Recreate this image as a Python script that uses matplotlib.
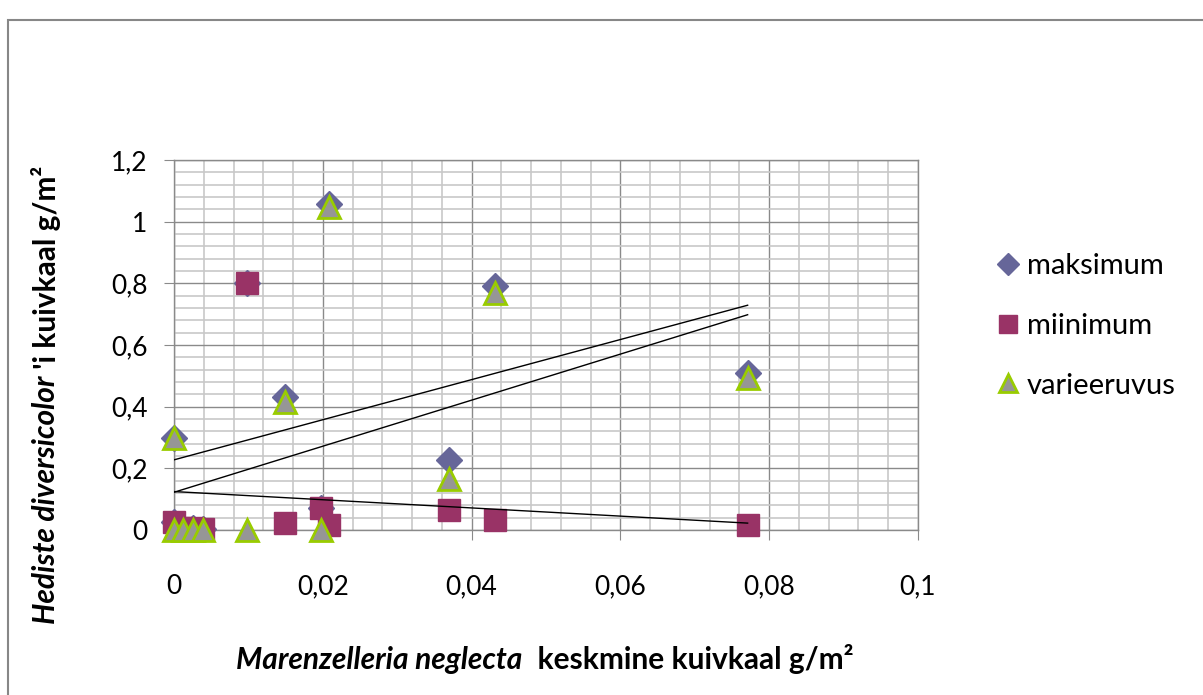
import matplotlib
matplotlib.use("Agg")
import matplotlib.pyplot as plt
import numpy as np
from matplotlib.patches import Rectangle
from matplotlib.ticker import MultipleLocator, FuncFormatter

plt.rcParams['font.family'] = ['Lato', 'DejaVu Sans']

# Marenzelleria neglecta keskmine kuivkaal (x) vs Hediste diversicolor kuivkaal
x_vals = [0, 0, 0.00125, 0.0026, 0.0039, 0.0098, 0.0149, 0.0197, 0.0209, 0.0369, 0.0432, 0.0771]
maksimum = [0.30, 0.026, 0.008, 0.005, 0.003, 0.80, 0.43, 0.072, 1.056, 0.228, 0.79, 0.51]
miinimum = [np.nan, 0.026, 0.008, 0.005, 0.003, 0.80, 0.023, 0.072, 0.016, 0.065, 0.032, 0.016]
varieeruvus = [0.30, 0, 0, 0, 0, 0, 0.414, 0, 1.048, 0.164, 0.768, 0.494]

W, H = 1203, 695
fig = plt.figure(figsize=(W / 100, H / 100), dpi=100)
fig.patch.set_facecolor('white')

# outer chart border
fig.patches.append(Rectangle((8 / W, -0.2), 2, 1.2 - 20 / H, transform=fig.transFigure,
                             fill=False, edgecolor='#878787', lw=1.5))

ax = fig.add_axes([174 / W, 1 - 530 / H, 744 / W, 370 / H])
ax.set_xlim(0, 0.1)
ax.set_ylim(0, 1.2)

ax.xaxis.set_major_locator(MultipleLocator(0.02))
ax.xaxis.set_minor_locator(MultipleLocator(0.004))
ax.yaxis.set_major_locator(MultipleLocator(0.2))
ax.yaxis.set_minor_locator(MultipleLocator(0.04))
fmt = FuncFormatter(lambda v, p: ('%g' % round(v, 6)).replace('.', ','))
ax.xaxis.set_major_formatter(fmt)
ax.yaxis.set_major_formatter(fmt)

ax.grid(which='minor', color='#c8c8c8', lw=1.2, zorder=0)
ax.grid(which='major', color='#8a8a8a', lw=1.0, zorder=0)
ax.set_axisbelow(True)
for s in ax.spines.values():
    s.set_color('#8a8a8a')
    s.set_linewidth(1.0)

ax.tick_params(which='major', direction='out', length=7, color='#8a8a8a', labelsize=19)
ax.tick_params(axis='x', which='major', pad=25)
ax.tick_params(axis='y', which='major', pad=12)
ax.tick_params(which='minor', length=0)

ax.plot(x_vals, maksimum, linestyle='none', marker='D', ms=13.5, color='#666699',
        mec='#666699', clip_on=False, zorder=3, label='maksimum')
ax.plot(x_vals, miinimum, linestyle='none', marker='s', ms=16.5, color='#993366',
        mec='#993366', clip_on=False, zorder=4, label='miinimum')
ax.plot(x_vals, varieeruvus, linestyle='none', marker='^', ms=16, color='#969696',
        mec='#99cc00', mew=2, clip_on=False, zorder=5, label='varieeruvus')

# linear trendlines
xa = np.array(x_vals)
for series in (maksimum, miinimum, varieeruvus):
    ya = np.array(series, dtype=float)
    ok = ~np.isnan(ya)
    k, b = np.polyfit(xa[ok], ya[ok], 1)
    xx = np.array([xa[ok].min(), xa[ok].max()])
    ax.plot(xx, k * xx + b, color='black', lw=1.0, zorder=6)

leg = ax.legend(loc='center left', bbox_to_anchor=(986 / W, 1 - 326 / H),
                bbox_transform=fig.transFigure, frameon=False, fontsize=21,
                handlelength=0.7, handletextpad=0.3, labelspacing=1.15,
                markerscale=0.8, borderaxespad=0)

# axis titles with mixed italic parts
fs = 21.5
t1 = fig.text(0, 0, 'Marenzelleria neglecta', fontsize=fs, fontweight='bold',
              fontstyle='italic', ha='left', va='bottom')
t2 = fig.text(0, 0, '  keskmine kuivkaal g/m²', fontsize=fs, fontweight='bold',
              ha='left', va='bottom')
t3 = fig.text(0, 0, 'Hediste diversicolor', fontsize=fs, fontweight='bold',
              fontstyle='italic', rotation=90, ha='center', va='bottom')
t4 = fig.text(0, 0, " 'i kuivkaal g/m²", fontsize=fs, fontweight='bold',
              rotation=90, ha='center', va='bottom')

r = fig.canvas.get_renderer()
w1 = t1.get_window_extent(r).width
w2 = t2.get_window_extent(r).width
hx = t1.get_window_extent(r).height
x0 = 545 - (w1 + w2) / 2
ybase = H - 660 - hx / 2
t1.set_position((x0 / W, ybase / H))
t2.set_position(((x0 + w1) / W, ybase / H))

h3 = t3.get_window_extent(r).height
h4 = t4.get_window_extent(r).height
y0 = (H - 395) - (h3 + h4) / 2
t3.set_position((46 / W, y0 / H))
t4.set_position((46 / W, (y0 + h3) / H))

fig.savefig('out.png', dpi=100, facecolor='white')
